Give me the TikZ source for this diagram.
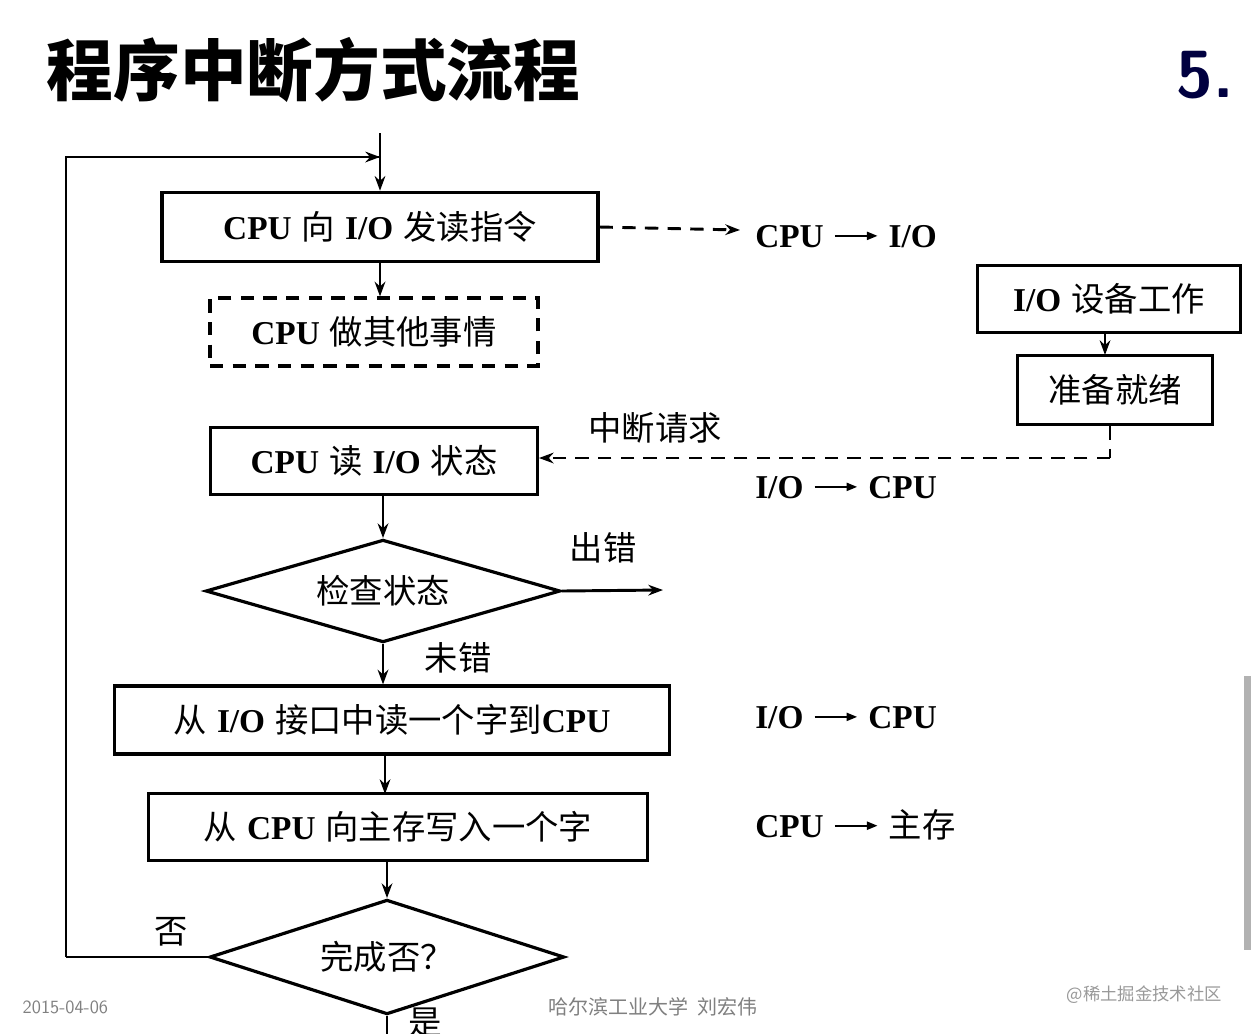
\documentclass[tikz,border=0pt]{standalone}
\usepackage{fontspec}
\usetikzlibrary{shapes.geometric,arrows.meta}
\newfontfamily\cjk{Noto Sans CJK SC}
\newfontfamily\lat{Liberation Serif}
\newcommand\Cz[1]{{\cjk #1}}
\newcommand\Lt[1]{{\lat\bfseries #1}}
\newcommand\arw{\ \raisebox{6pt}{\tikz[x=1pt,y=1pt]\draw[line width=1.6pt,-{Triangle[length=8pt,width=6pt]}] (0,0)--(32,0);}\ }
\begin{document}
\begin{tikzpicture}[x=0.75pt,y=-0.75pt,
 box/.style={draw,line width=2.4pt,minimum height=#1,inner sep=0pt},
 lbl/.style={font=\fontsize{25}{28}\selectfont,inner sep=0pt},
 ln/.style={line width=2.2pt},
 arr/.style={line width=2.2pt,-{Stealth[length=11pt,width=8pt]}},
 dsh/.style={dash pattern=on 10pt off 7pt}]
\useasboundingbox (0,0) rectangle (1251,1033);
\fill[white] (0,0) rectangle (1251,1033);
\node[anchor=west,font=\fontsize{50}{55}\selectfont\cjk\bfseries] (title) at (42,70) {程序中断方式流程};
\node[anchor=west,font=\fontsize{50}{55}\selectfont\bfseries\sffamily,text=black!75!blue] (num) at (1172,75) {5.};

\node[box=52pt,minimum width=327pt,lbl] (b1) at (380,227) {\Lt{CPU} \Cz{向} \Lt{I/O} \Cz{发读指令}};
\node[box=51pt,minimum width=246pt,lbl,dsh] (b2) at (374,332) {\Lt{CPU} \Cz{做其他事情}};
\node[box=50pt,minimum width=197pt,lbl] (io) at (1109,299) {\Lt{I/O} \Cz{设备工作}};
\node[box=52pt,minimum width=146pt,lbl] (rdy) at (1115,390) {\Cz{准备就绪}};
\node[box=50pt,minimum width=245pt,lbl] (b3) at (374,461) {\Lt{CPU} \Cz{读} \Lt{I/O} \Cz{状态}};
\node[draw,diamond,aspect=3.45,line width=2.4pt,minimum width=266pt,minimum height=77pt,inner sep=0pt,lbl] (d1) at (383,591) {\Cz{检查状态}};
\node[box=51pt,minimum width=416pt,lbl] (b4) at (392,720) {\Cz{从} \Lt{I/O} \Cz{接口中读一个字到}\Lt{CPU}};
\node[box=50pt,minimum width=374pt,lbl] (b5) at (398,827) {\Cz{从} \Lt{CPU} \Cz{向主存写入一个字}};
\node[draw,diamond,aspect=3.1,line width=2.4pt,minimum width=266pt,minimum height=86pt,inner sep=0pt,lbl] (d2) at (387,957) {\Cz{完成否？}};

\coordinate (top) at (380,133);
\coordinate (e1) at (740,230);
\coordinate (e2) at (663,590);
\coordinate (bl) at (66,957);
\coordinate (tl) at (66,157);
\coordinate (j) at (380,157);
\coordinate (rc) at (1110,458);
\coordinate (bot) at (387,1040);

\draw[arr] (top) -- (b1.north);
\draw[ln] (bl) -- (tl) -- (j);
\draw[arr] (tl) -- (j);
\draw[ln] (d2.west) -- (bl);
\draw[arr,dsh] (b1.east) -- (e1);
\draw[arr] (b1.south) -- (b1.south|-b2.north);
\draw[arr] (io.south-|1105,0) -- (1105,355);
\draw[ln,dsh] (rdy.south-|rc) -- (rc);
\draw[arr,dsh] (rc) -- (b3.east|-rc);
\draw[arr] (b3.south-|d1.north) -- (d1.north);
\draw[arr] (d1.east) -- (e2);
\draw[arr] (d1.south) -- (d1.south|-b4.north);
\draw[arr] (b4.south-|385,0) -- (385,794);
\draw[arr] (b5.south-|d2.north) -- (d2.north);
\draw[ln] (d2.south) -- (bot);

\node[lbl,anchor=west] (t1) at (755,237) {\Lt{CPU}\arw\Lt{I/O}};
\node[lbl] (t2) at (655,428) {\Cz{中断请求}};
\node[lbl,anchor=west] (t3) at (755,488) {\Lt{I/O}\arw\Lt{CPU}};
\node[lbl] (t4) at (603,548) {\Cz{出错}};
\node[lbl] (t5) at (458,658) {\Cz{未错}};
\node[lbl,anchor=west] (t6) at (755,718) {\Lt{I/O}\arw\Lt{CPU}};
\node[lbl,anchor=west] (t7) at (755,825) {\Lt{CPU}\arw\Cz{主存}};
\node[lbl] (t8) at (171,932) {\Cz{否}};
\node[lbl,anchor=north] (t9) at (425,1008) {\Cz{是}};

\node[anchor=west,text=gray,font=\fontsize{14}{16}\selectfont\sffamily] (f1) at (18,1007) {2015-04-06};
\node[text=gray,font=\fontsize{15}{17}\selectfont\cjk] (f2) at (653,1007) {哈尔滨工业大学\ \ 刘宏伟};
\node[anchor=west,text=gray!80,font=\fontsize{13}{15}\selectfont\cjk] (f3) at (1062,995) {@稀土掘金技术社区};
\fill[gray!60] (1244,676) rectangle (1251,950);
\end{tikzpicture}
\end{document}
